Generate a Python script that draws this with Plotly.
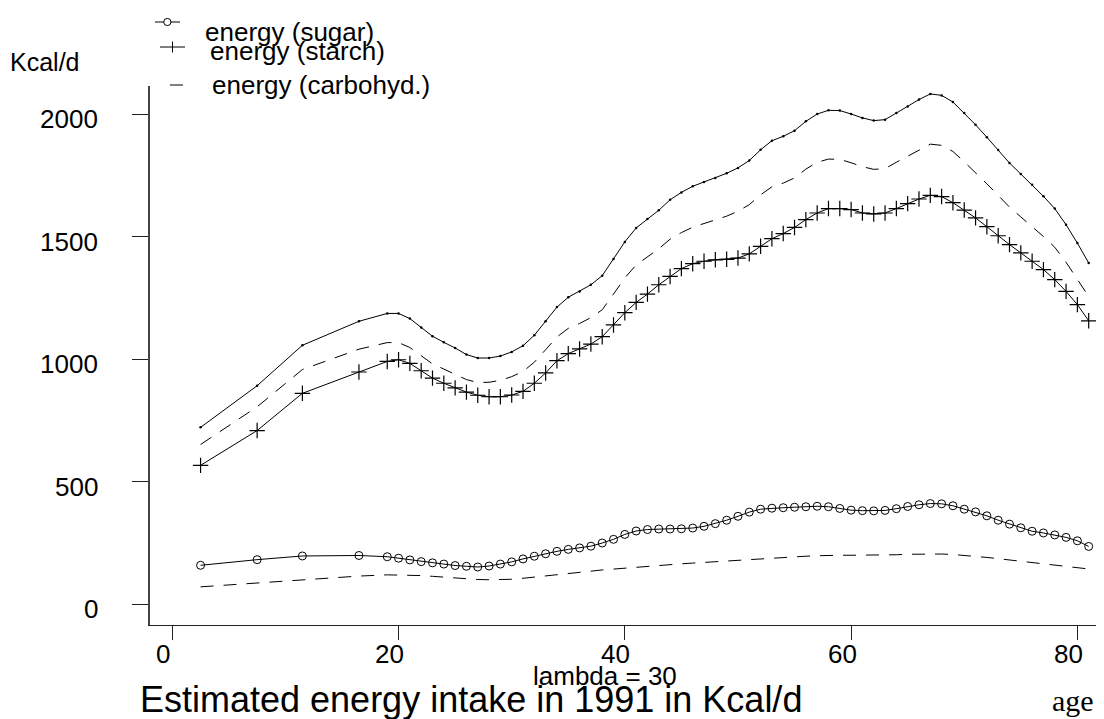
import plotly.graph_objects as go

# ---- data ----
ages = [2.5, 7.5, 11.5, 16.5] + list(range(19, 82))

sugar = [158, 181, 196, 198,
         193, 187, 180, 173, 168, 163, 157, 154, 151, 155,
         163, 172, 184, 195, 205, 215, 223, 229, 236, 249,
         264, 284, 298, 304, 306, 306, 307, 310, 317, 328,
         342, 358, 375, 387, 391, 393, 395, 397, 399, 397,
         390, 383, 381, 380, 382, 389, 398, 405, 410, 409,
         401, 387, 376, 360, 342, 326, 311, 297, 290, 282,
         272, 258, 235]

starch = [566, 708, 860, 947,
          990, 997, 982, 952, 922, 901, 882, 865, 852, 846,
          846, 853, 868, 901, 943, 993, 1022, 1041, 1061, 1091,
          1139, 1189, 1231, 1265, 1303, 1337, 1369, 1389, 1399, 1405,
          1407, 1412, 1429, 1460, 1491, 1512, 1537, 1569, 1596, 1614,
          1614, 1610, 1596, 1592, 1596, 1614, 1634, 1653, 1668, 1663,
          1638, 1608, 1576, 1540, 1503, 1467, 1433, 1399, 1365, 1324,
          1276, 1222, 1156]

carbohyd = [721, 891, 1056, 1154,
            1186, 1186, 1165, 1129, 1093, 1068, 1045, 1018, 1004, 1004,
            1012, 1029, 1054, 1097, 1154, 1212, 1252, 1276, 1303, 1340,
            1408, 1478, 1535, 1571, 1607, 1650, 1680, 1705, 1722, 1739,
            1758, 1780, 1810, 1854, 1891, 1909, 1932, 1970, 2000, 2015,
            2014, 2000, 1984, 1973, 1977, 2004, 2031, 2059, 2082, 2076,
            2049, 2004, 1956, 1905, 1853, 1800, 1755, 1711, 1664, 1614,
            1548, 1473, 1392]

upper_dashed = [651, 805, 957, 1040,
                1067, 1067, 1047, 1013, 980, 959, 939, 916, 904, 905,
                913, 928, 949, 987, 1038, 1090, 1125, 1145, 1169, 1201,
                1265, 1331, 1384, 1417, 1450, 1489, 1516, 1538, 1552, 1566,
                1583, 1603, 1630, 1670, 1703, 1718, 1739, 1775, 1803, 1816,
                1815, 1801, 1785, 1774, 1777, 1803, 1828, 1855, 1877, 1872,
                1847, 1805, 1761, 1715, 1668, 1620, 1580, 1541, 1500, 1456,
                1395, 1325, 1255]

lower_dashed = [70, 86, 99, 114,
                119, 119, 118, 116, 113, 109, 106, 102, 100, 99,
                99, 101, 105, 110, 116, 122, 127, 131, 134, 139,
                143, 147, 151, 154, 157, 161, 164, 167, 170, 173,
                175, 177, 180, 184, 188, 191, 193, 195, 197, 199,
                199, 199, 199, 199, 200, 201, 203, 204, 205, 204,
                202, 199, 195, 190, 185, 180, 175, 170, 164, 158,
                153, 148, 143]

x_ticks = [0, 20, 40, 60, 80]
y_ticks = [0, 500, 1000, 1500, 2000]

legend_labels = ["energy (sugar)", "energy (starch)", "energy (carbohyd.)"]

# ---- layout geometry ----
W, H = 1104, 719
L, R, T, B = 142, 0, 78, 102
PW, PH = W - L - R, H - T - B
FONT = "Liberation Sans, Arial, Helvetica, sans-serif"


def px(X):
    return (X - L) / PW


def py(Y):
    return (T + PH - Y) / PH


fig = go.Figure()

line_style = dict(color="black", width=1)
dash_style = dict(color="black", width=1, dash="13px,10px")

fig.add_trace(go.Scatter(x=ages, y=carbohyd, mode="lines+markers",
                         line=line_style,
                         marker=dict(size=2.5, color="black"),
                         name=legend_labels[2]))
fig.add_trace(go.Scatter(x=ages, y=upper_dashed, mode="lines", line=dash_style))
fig.add_trace(go.Scatter(x=ages, y=starch, mode="lines+markers",
                         line=line_style,
                         marker=dict(symbol="cross-thin", size=11,
                                     line=dict(color="black", width=1.2)),
                         name=legend_labels[1]))
fig.add_trace(go.Scatter(x=ages, y=sugar, mode="lines+markers",
                         line=line_style,
                         marker=dict(symbol="circle-open", size=8,
                                     line=dict(color="black", width=1),
                                     color="black"),
                         name=legend_labels[0]))
fig.add_trace(go.Scatter(x=ages, y=lower_dashed, mode="lines", line=dash_style))

fig.update_layout(
    width=W, height=H,
    margin=dict(l=L, r=R, t=T, b=B, pad=0),
    showlegend=False,
    plot_bgcolor="white", paper_bgcolor="white",
    font=dict(family=FONT, size=26, color="black"),
)

fig.update_xaxes(range=[-1.97, 83.06], tickvals=x_ticks, showticklabels=False,
                 showgrid=False, zeroline=False,
                 showline=True, linecolor="#222", linewidth=1.4,
                 ticks="outside", ticklen=14, tickwidth=1, tickcolor="#222")
fig.update_yaxes(range=[-85.7, 2114.3], tickvals=y_ticks, showticklabels=False,
                 showgrid=False, zeroline=False,
                 showline=True, linecolor="#444", linewidth=1.6,
                 ticks="outside", ticklen=16, tickwidth=1, tickcolor="#222")

# ---- manual legend keys ----
shapes = []
k = dict(xref="paper", yref="paper", line=dict(color="black", width=1))
shapes.append(dict(type="line", x0=px(147), x1=px(172), y0=py(14), y1=py(14), **k))
shapes.append(dict(type="circle", x0=px(155.7), x1=px(163), y0=py(10.4), y1=py(17.6),
                   fillcolor="white", **k))
shapes.append(dict(type="line", x0=px(152), x1=px(177), y0=py(39), y1=py(39), **k))
shapes.append(dict(type="line", x0=px(164.5), x1=px(164.5), y0=py(33.5), y1=py(44.5), **k))
shapes.append(dict(type="line", x0=px(162), x1=px(175), y0=py(77), y1=py(77), **k))
fig.update_layout(shapes=shapes)

ann = []
# tick labels (placed like the original: slightly left of / below the ticks)
for v in x_ticks:
    ann.append(dict(text=str(v), x=v, xref="x", y=py(646), yref="paper",
                    xshift=-9, xanchor="center", yanchor="middle",
                    showarrow=False, font=dict(size=26)))
for v in y_ticks:
    ann.append(dict(text=str(v), x=px(92), xref="paper", y=v, yref="y",
                    yshift=-5, xanchor="right", yanchor="middle",
                    showarrow=False, font=dict(size=26)))

ann.append(dict(text=legend_labels[0], x=px(195), y=py(24), xref="paper", yref="paper",
                xanchor="left", yanchor="middle", showarrow=False, font=dict(size=26)))
ann.append(dict(text=legend_labels[1], x=px(200), y=py(43), xref="paper", yref="paper",
                xanchor="left", yanchor="middle", showarrow=False, font=dict(size=26)))
ann.append(dict(text=legend_labels[2], x=px(202), y=py(77), xref="paper", yref="paper",
                xanchor="left", yanchor="middle", showarrow=False, font=dict(size=26)))
ann.append(dict(text="Kcal/d", x=px(0), y=py(54), xref="paper", yref="paper",
                xanchor="left", yanchor="middle", showarrow=False, font=dict(size=25)))
ann.append(dict(text="lambda = 30", x=px(597), y=py(668), xref="paper", yref="paper",
                xanchor="center", yanchor="middle", showarrow=False, font=dict(size=26)))
ann.append(dict(text="Estimated energy intake in 1991 in Kcal/d", x=px(130), y=py(691),
                xref="paper", yref="paper", xanchor="left", yanchor="middle",
                showarrow=False, font=dict(size=36)))
ann.append(dict(text="age", x=px(1065), y=py(692), xref="paper", yref="paper",
                xanchor="center", yanchor="middle", showarrow=False,
                font=dict(size=30, family="Liberation Serif, Times New Roman, serif")))
fig.update_layout(annotations=ann)

fig.write_html("out.html")
